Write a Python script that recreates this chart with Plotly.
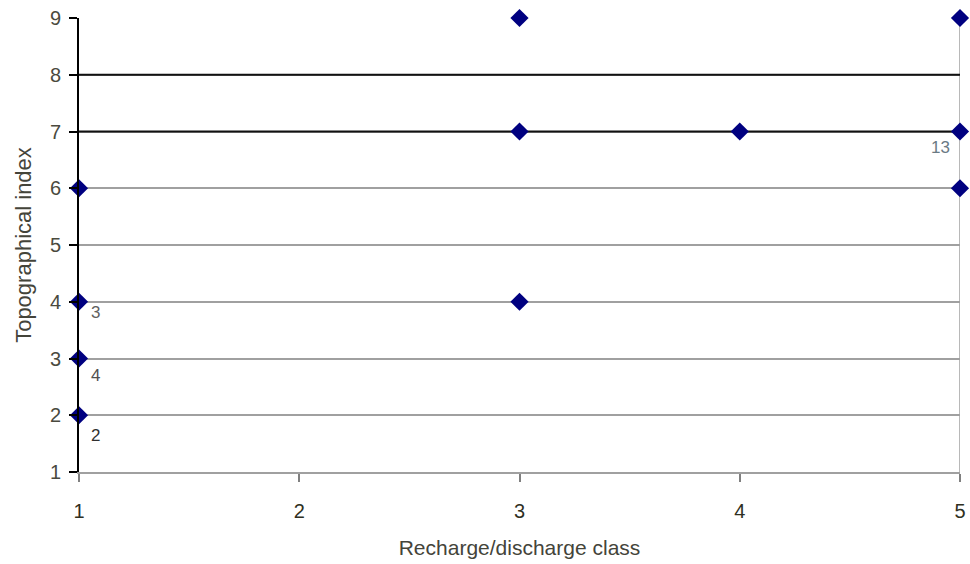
import plotly.graph_objects as go

# Recharge/discharge class vs topographical index
recharge_class = [3, 5, 3, 4, 5, 1, 5, 1, 3, 1, 1]
topo_index = [9, 9, 7, 7, 7, 6, 6, 4, 4, 3, 2]

# Count labels attached to some of the points
label_x = [1, 1, 1, 5]
label_y = [4, 3, 2, 7]
label_text = ["3", "4", "2", "13"]
label_dx = [16, 16, 16, -20]
label_dy = [-11, -17, -20, -16]
label_color = ["#606060", "#505050", "#303030", "#6a7a84"]

# Reference lines
ref_levels = [8, 7]
x_span = [1, 5]
y_span = [1, 9]

x_ticks = [1, 2, 3, 4, 5]
y_ticks = [1, 2, 3, 4, 5, 6, 7, 8, 9]

FONT = "Liberation Sans, Arial, sans-serif"

fig = go.Figure()

# right border of the plotting area
fig.add_trace(go.Scatter(x=[x_span[1], x_span[1]], y=y_span, mode="lines",
                         line=dict(color="#a0a0a0", width=1.5),
                         hoverinfo="skip", showlegend=False, cliponaxis=False))

for lvl in ref_levels:
    fig.add_trace(go.Scatter(x=x_span, y=[lvl, lvl], mode="lines",
                             line=dict(color="#111111", width=2.2),
                             hoverinfo="skip", showlegend=False))

fig.add_trace(go.Scatter(
    x=recharge_class, y=topo_index, mode="markers",
    marker=dict(symbol="diamond", size=14, color="#000080",
                line=dict(width=0)),
    showlegend=False, cliponaxis=False))

for xv, yv, txt, dx, dy, col in zip(label_x, label_y, label_text,
                                    label_dx, label_dy, label_color):
    fig.add_annotation(x=xv, y=yv, text=txt, showarrow=False,
                       xshift=dx, yshift=dy,
                       font=dict(family=FONT, size=17, color=col))

fig.update_layout(
    width=970, height=564,
    margin=dict(l=79, r=10, t=18, b=92),
    paper_bgcolor="white", plot_bgcolor="white",
    font=dict(family=FONT, size=18, color="#3a3a2e"),
)

fig.update_xaxes(
    range=x_span, tickvals=x_ticks, showgrid=False, zeroline=False,
    automargin=False,
    showline=True, linecolor="#a0a0a0", linewidth=1.5,
    ticks="outside", ticklen=8, tickcolor="#808080", tickwidth=1.5,
    ticklabelstandoff=12,
    tickfont=dict(size=20, color="#2f2f22"),
    title=dict(text="Recharge/discharge class",
               font=dict(size=21, color="#44443a"), standoff=20),
)

fig.update_yaxes(
    range=y_span, tickvals=y_ticks, showgrid=True, gridcolor="#a0a0a0",
    gridwidth=1.5, zeroline=False,
    automargin=False,
    showline=True, linecolor="#000000", linewidth=2,
    ticks="outside", ticklen=8, tickcolor="#000000", tickwidth=1.5,
    ticklabelstandoff=4,
    tickfont=dict(size=20, color="#4a4a3e"),
    title=dict(text="Topographical index",
               font=dict(size=22, color="#44443a"), standoff=12),
)

fig.write_html("out.html")
